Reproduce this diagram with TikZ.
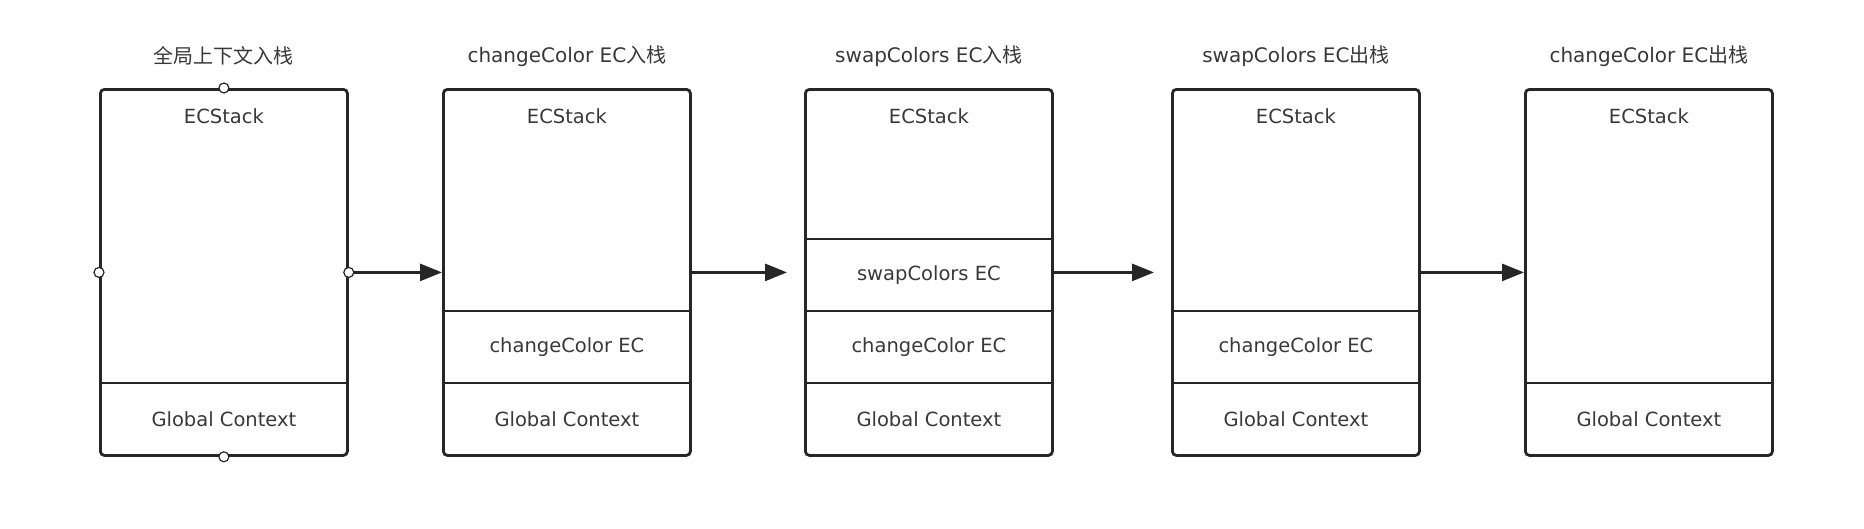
\documentclass[tikz,border=0pt]{standalone}
\usepackage{fontspec}
\setmainfont{DejaVu Sans}
\newfontfamily\cjk{Noto Sans CJK SC}
\usetikzlibrary{arrows.meta}
\definecolor{ink}{HTML}{262626}
\definecolor{txt}{HTML}{383838}
\begin{document}
\begin{tikzpicture}[x=1pt,y=-1pt,
  stackbox/.style={draw=ink, line width=2.8pt, rounded corners=4pt, minimum width=247pt, minimum height=366pt, inner sep=0pt, anchor=north west},
  lbl/.style={text=txt, font=\fontsize{19.5}{22}\selectfont, inner sep=0pt},
  ttl/.style={text=txt, font=\fontsize{20}{22}\selectfont, inner sep=0pt},
  divider/.style={draw=ink, line width=2.8pt},
  flow/.style={draw=ink, line width=2.8pt, -{Triangle[length=22pt,width=17pt]}},
  port/.style={circle, draw=ink, fill=white, line width=1.2pt, minimum size=10pt, inner sep=0pt}]
\useasboundingbox (0,0) rectangle (1864,528);

% boxes
\node[stackbox] (b1) at (99,88) {};
\node[stackbox] (b2) at (442,88) {};
\node[stackbox] (b3) at (804,88) {};
\node[stackbox] (b4) at (1171,88) {};
\node[stackbox] (b5) at (1524,88) {};

% titles
\node[ttl] (t1) at (b1.north |- 0,56) {{\cjk 全局上下文入栈}};
\node[ttl] (t2) at (b2.north |- 0,56) {changeColor EC{\cjk 入栈}};
\node[ttl] (t3) at (b3.north |- 0,56) {swapColors EC{\cjk 入栈}};
\node[ttl] (t4) at (b4.north |- 0,56) {swapColors EC{\cjk 出栈}};
\node[ttl] (t5) at (b5.north |- 0,56) {changeColor EC{\cjk 出栈}};

% ECStack labels
\foreach \b in {b1,b2,b3,b4,b5}{
  \node[lbl] (\b s) at (\b.north |- 0,116) {ECStack};
  \node[lbl] (\b g) at (\b.north |- 0,419) {Global Context};
  \draw[divider] (\b.west |- 0,383) -- (\b.east |- 0,383);
}

% middle rows
\draw[divider] (b2.west |- 0,311) -- (b2.east |- 0,311);
\node[lbl] (b2c) at (b2.north |- 0,347) {changeColor EC};

\draw[divider] (b3.west |- 0,311) -- (b3.east |- 0,311);
\draw[divider] (b3.west |- 0,239) -- (b3.east |- 0,239);
\node[lbl] (b3c) at (b3.north |- 0,347) {changeColor EC};
\node[lbl] (b3w) at (b3.north |- 0,275) {swapColors EC};

\draw[divider] (b4.west |- 0,311) -- (b4.east |- 0,311);
\node[lbl] (b4c) at (b4.north |- 0,347) {changeColor EC};

% arrows
\draw[flow] (b1.east) -- (b2.west);
\draw[flow, shorten >=17pt] (b2.east) -- (b3.west);
\draw[flow, shorten >=17pt] (b3.east) -- (b4.west);
\draw[flow] (b4.east) -- (b5.west);

% ports on first box
\node[port] (p1) at (b1.north) {};
\node[port] (p2) at (b1.south) {};
\node[port] (p3) at (b1.west) {};
\node[port] (p4) at (b1.east) {};
\end{tikzpicture}
\end{document}
